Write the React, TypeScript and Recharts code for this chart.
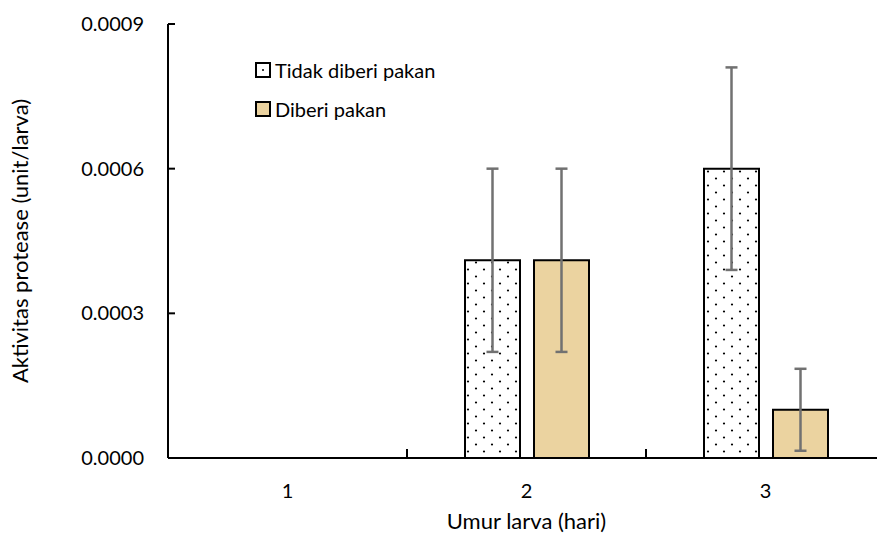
import { Bar, BarChart, ErrorBar, XAxis, YAxis } from "recharts";

const ages = ["1", "2", "3"];
const unfed = [0, 0.00041, 0.0006];
const unfedErr = [0, 0.00019, 0.00021];
const fed = [0, 0.00041, 0.0001];
const fedErr = [0, 0.00019, 0.000085];
const yTicks = [0, 0.0003, 0.0006, 0.0009];

const data = ages.map((age, i) => ({
  age,
  unfed: unfed[i] || null,
  unfedErr: unfedErr[i],
  fed: fed[i] || null,
  fedErr: fedErr[i],
}));

const FONT = "Lato, 'Open Sans', sans-serif";
const TAN = "#ebd3a0";

// category label plus the small separator tick at the right edge of the band
function AgeTick(props: any) {
  const { x, y, payload } = props;
  const edge = x + (payload.offset || 0);
  return (
    <g>
      <line x1={edge} x2={edge} y1={y} y2={y - 9} stroke="#000" strokeWidth={2} />
      <text x={x} y={y + 40} textAnchor="middle" fill="#000" fontSize={20} fontFamily={FONT}>
        {payload.value}
      </text>
    </g>
  );
}

function LegendBox() {
  const row = (fill: string, label: string) => (
    <div style={{ display: "flex", alignItems: "center", height: 39 }}>
      <svg width={16} height={16} style={{ marginRight: 4 }}>
        <rect x={1} y={1} width={14} height={14} fill={fill} stroke="#000" strokeWidth={2} />
        {fill === "#fff" && <circle cx={8} cy={8} r={1} fill="#000" />}
      </svg>
      <span>{label}</span>
    </div>
  );
  return (
    <div
      style={{
        position: "absolute",
        left: 255,
        top: 50,
        fontFamily: FONT,
        fontSize: 20,
        color: "#000",
      }}
    >
      {row("#fff", "Tidak diberi pakan")}
      {row(TAN, "Diberi pakan")}
    </div>
  );
}

export default function App() {
  return (
    <div style={{ position: "absolute", left: 0, top: 0, width: 877, height: 533, background: "#fff" }}>
      <style>{`body{margin:0}`}</style>
      <BarChart
        width={877}
        height={533}
        data={data}
        margin={{ top: 24, right: -8, left: 0, bottom: 0 }}
        barCategoryGap={58}
        barGap={14}
      >
        <defs>
          <pattern id="dots" width={16} height={14} patternUnits="userSpaceOnUse">
            <rect width={16} height={14} fill="#fff" />
            <circle cx={4} cy={3.5} r={1.1} fill="#000" />
            <circle cx={12} cy={10.5} r={1.1} fill="#000" />
          </pattern>
        </defs>
        <XAxis
          dataKey="age"
          height={75}
          axisLine={{ stroke: "#000", strokeWidth: 2 }}
          tickLine={false}
          tickSize={0}
          tickMargin={0}
          tick={<AgeTick />}
          label={{
            value: "Umur larva (hari)",
            position: "insideBottom",
            offset: 4,
            fill: "#000",
            fontSize: 22,
            fontFamily: FONT,
          }}
        />
        <YAxis
          width={168}
          domain={[0, 0.0009]}
          ticks={yTicks}
          tickFormatter={(v: number) => v.toFixed(4)}
          axisLine={{ stroke: "#000", strokeWidth: 2 }}
          tickLine={{ stroke: "#000", strokeWidth: 2 }}
          tickSize={-7}
          tick={{ fill: "#000", fontSize: 20, fontFamily: FONT, dx: -29 }}
          label={{
            value: "Aktivitas protease (unit/larva)",
            angle: -90,
            position: "insideLeft",
            offset: 20,
            style: { textAnchor: "middle" },
            fill: "#000",
            fontSize: 22,
            fontFamily: FONT,
          }}
        />
        <Bar dataKey="unfed" fill="url(#dots)" stroke="#000" strokeWidth={2} isAnimationActive={false}>
          <ErrorBar dataKey="unfedErr" width={6} stroke="#717171" strokeWidth={2.5} direction="y" />
        </Bar>
        <Bar dataKey="fed" fill={TAN} stroke="#000" strokeWidth={2} isAnimationActive={false}>
          <ErrorBar dataKey="fedErr" width={6} stroke="#717171" strokeWidth={2.5} direction="y" />
        </Bar>
      </BarChart>
      <LegendBox />
    </div>
  );
}
